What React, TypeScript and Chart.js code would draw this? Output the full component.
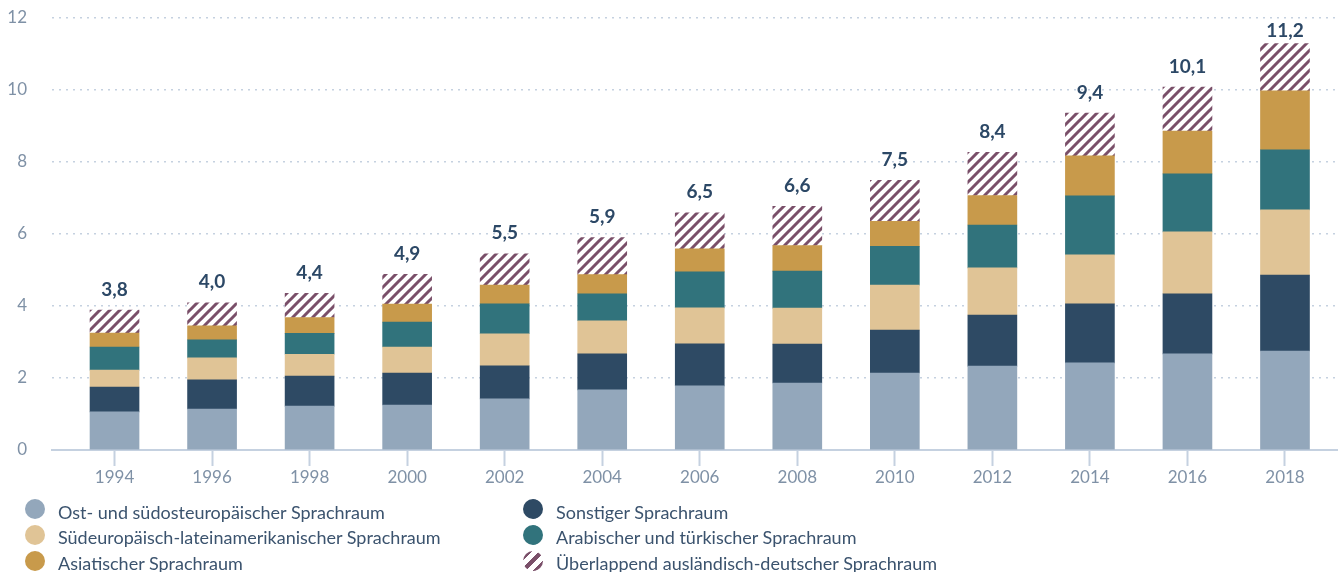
import React, { useEffect, useRef } from 'react';
import { Chart, registerables } from 'chart.js';

Chart.register(...registerables);

// ---------- data ----------
const years = [1994, 1996, 1998, 2000, 2002, 2004, 2006, 2008, 2010, 2012, 2014, 2016, 2018];

const ostSuedost = [1.06, 1.14, 1.22, 1.25, 1.42, 1.67, 1.78, 1.86, 2.14, 2.33, 2.42, 2.67, 2.75];
const sonstiger = [0.69, 0.81, 0.83, 0.89, 0.92, 1.0, 1.17, 1.08, 1.19, 1.42, 1.64, 1.67, 2.11];
const suedeuropaeisch = [0.47, 0.61, 0.61, 0.72, 0.89, 0.92, 1.0, 1.0, 1.25, 1.31, 1.36, 1.72, 1.81];
const arabischTuerkisch = [0.64, 0.5, 0.58, 0.69, 0.83, 0.75, 1.0, 1.03, 1.08, 1.19, 1.64, 1.61, 1.67];
const asiatisch = [0.39, 0.39, 0.44, 0.5, 0.52, 0.53, 0.64, 0.71, 0.69, 0.82, 1.11, 1.19, 1.64];
const ueberlappend = [0.64, 0.64, 0.67, 0.83, 0.87, 1.03, 1.0, 1.09, 1.14, 1.2, 1.19, 1.22, 1.31];

const totals = [3.8, 4.0, 4.4, 4.9, 5.5, 5.9, 6.5, 6.6, 7.5, 8.4, 9.4, 10.1, 11.2];

const yTicks = [0, 2, 4, 6, 8, 10, 12];

const seriesNames = [
  'Ost- und südosteuropäischer Sprachraum',
  'Sonstiger Sprachraum',
  'Südeuropäisch-lateinamerikanischer Sprachraum',
  'Arabischer und türkischer Sprachraum',
  'Asiatischer Sprachraum',
  'Überlappend ausländisch-deutscher Sprachraum',
];

// ---------- styles ----------
const FONT = 'Lato, "Noto Sans", sans-serif';
const HATCH = '#7a4f69';
const seriesColors = ['#93a7bb', '#2e4a64', '#e0c496', '#31737c', '#c89a4b', HATCH];
const AXIS_TEXT = '#7f91a6';
const GRID = '#c5d1e0';
const LABEL = '#2c4866';
const LEGEND_TEXT = '#3b536e';

function makeHatch(ctx: CanvasRenderingContext2D): CanvasPattern | string {
  const c = document.createElement('canvas');
  c.width = 10;
  c.height = 10;
  const g = c.getContext('2d');
  if (!g) return HATCH;
  g.fillStyle = '#ffffff';
  g.fillRect(0, 0, 10, 10);
  g.strokeStyle = HATCH;
  g.lineWidth = 3;
  g.beginPath();
  g.moveTo(-1, 11);
  g.lineTo(11, -1);
  g.moveTo(-6, 6);
  g.lineTo(6, -6);
  g.moveTo(4, 16);
  g.lineTo(16, 4);
  g.stroke();
  return ctx.createPattern(c, 'repeat') || HATCH;
}

const totalsPlugin = {
  id: 'totalsLabels',
  afterDatasetsDraw(chart: any) {
    const { ctx, chartArea } = chart;
    const last = chart.getDatasetMeta(chart.data.datasets.length - 1);
    ctx.save();
    ctx.font = `bold 19px ${FONT}`;
    ctx.fillStyle = LABEL;
    ctx.textAlign = 'center';
    ctx.textBaseline = 'middle';
    last.data.forEach((bar: any, i: number) => {
      const y = Math.max(bar.y - 20.5, chartArea.top + 13);
      ctx.fillText(totals[i].toFixed(1).replace('.', ','), bar.x, y);
    });
    ctx.restore();
  },
};

function LegendItem({ idx, col, row }: { idx: number; col: number; row: number }) {
  const circleLeft = col === 0 ? 25 : 523;
  const textLeft = col === 0 ? 58 : 556;
  const circleTop = 498.5 + row * 26;
  const textTop = 502 + row * 25.3;
  const isHatch = idx === 5;
  return (
    <>
      <div
        style={{
          position: 'absolute',
          left: circleLeft,
          top: circleTop,
          width: 20,
          height: 20,
          borderRadius: '50%',
          background: isHatch
            ? `repeating-linear-gradient(135deg, #ffffff 0px, #ffffff 3px, ${HATCH} 3px, ${HATCH} 7px, #ffffff 7px, #ffffff 9px)`
            : seriesColors[idx],
        }}
      />
      <div
        style={{
          position: 'absolute',
          left: textLeft,
          top: textTop,
          fontFamily: FONT,
          fontSize: 18,
          lineHeight: '20px',
          color: LEGEND_TEXT,
          whiteSpace: 'nowrap',
        }}
      >
        {seriesNames[idx]}
      </div>
    </>
  );
}

export default function App() {
  const canvasRef = useRef<HTMLCanvasElement | null>(null);

  useEffect(() => {
    document.body.style.margin = '0';
    const canvas = canvasRef.current;
    if (!canvas) return;
    const ctx = canvas.getContext('2d');
    if (!ctx) return;
    const hatch = makeHatch(ctx);
    const series = [ostSuedost, sonstiger, suedeuropaeisch, arabischTuerkisch, asiatisch, ueberlappend];

    const chart = new Chart(ctx, {
      type: 'bar',
      data: {
        datasets: series.map((vals, si) => ({
          label: seriesNames[si],
          data: vals.map((v, i) => ({ x: years[i], y: v })),
          backgroundColor: si === 5 ? (hatch as any) : seriesColors[si],
          borderWidth: 0,
          barThickness: 49,
        })),
      },
      options: {
        responsive: false,
        animation: false,
        events: [],
        layout: { padding: { top: 18, left: 0, right: 0, bottom: 0 } },
        plugins: {
          legend: { display: false },
          tooltip: { enabled: false },
        },
        scales: {
          x: {
            type: 'linear',
            stacked: true,
            offset: false,
            min: 1992.718,
            max: 2019.087,
            afterBuildTicks: (scale: any) => {
              scale.ticks = years.map((v) => ({ value: v }));
            },
            afterFit: (scale: any) => {
              scale.height = 50;
            },
            grid: {
              offset: false,
              drawOnChartArea: false,
              drawTicks: true,
              tickLength: 16,
              tickColor: GRID,
              tickWidth: 2,
              color: GRID,
            },
            border: { display: true, color: GRID, width: 2 },
            ticks: {
              autoSkip: false,
              maxRotation: 0,
              padding: 1,
              color: AXIS_TEXT,
              font: { family: FONT, size: 17 },
              callback: (v: any) => String(v),
            },
          },
          y: {
            stacked: true,
            min: 0,
            max: 12,
            afterBuildTicks: (scale: any) => {
              scale.ticks = yTicks.map((v) => ({ value: v }));
            },
            afterFit: (scale: any) => {
              scale.width = 52;
            },
            grid: {
              color: GRID,
              lineWidth: 1.5,
              drawTicks: true,
              tickLength: 25,
              tickColor: 'rgba(0,0,0,0)',
            },
            border: { display: false, dash: [2, 5] },
            ticks: {
              padding: 0,
              color: AXIS_TEXT,
              font: { family: FONT, size: 17 },
              callback: (v: any) => String(v),
            },
          },
        },
      } as any,
      plugins: [totalsPlugin],
    });

    return () => {
      chart.destroy();
    };
  }, []);

  return (
    <div style={{ position: 'relative', width: 1338, height: 572, overflow: 'hidden', background: '#ffffff' }}>
      <canvas ref={canvasRef} width={1338} height={500} style={{ display: 'block', width: 1338, height: 500 }} />
      <LegendItem idx={0} col={0} row={0} />
      <LegendItem idx={1} col={1} row={0} />
      <LegendItem idx={2} col={0} row={1} />
      <LegendItem idx={3} col={1} row={1} />
      <LegendItem idx={4} col={0} row={2} />
      <LegendItem idx={5} col={1} row={2} />
    </div>
  );
}
